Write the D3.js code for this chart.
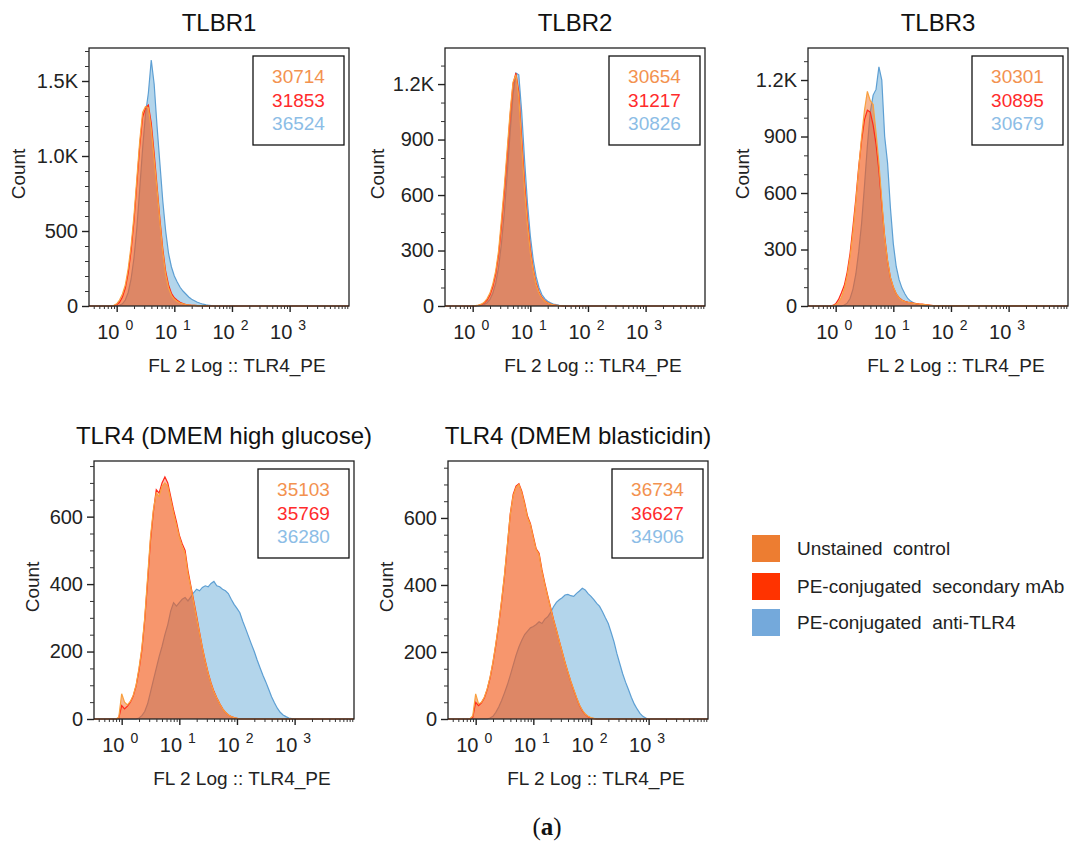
<!DOCTYPE html>
<html>
<head>
<meta charset="utf-8">
<script src="https://cdn.jsdelivr.net/npm/d3@7"></script>
<style>
body { margin: 0; background: #fff; }
text { font-family: "Liberation Sans", Arial, sans-serif; }
</style>
</head>
<body>
<div id="chart"></div>
<script>
// log10 positions of the histogram bins (FL 2 Log)
const binsTLBR = [-0.10, -0.05, 0.00, 0.05, 0.10, 0.15, 0.20, 0.25, 0.30, 0.35, 0.40, 0.45, 0.50, 0.55, 0.60, 0.65, 0.70, 0.75, 0.80, 0.85,
    0.90, 0.95, 1.00, 1.05, 1.10, 1.15, 1.20, 1.25, 1.30, 1.35, 1.40, 1.45, 1.50, 1.55, 1.60, 1.65, 1.70];
const binsTLR4 = [-0.10, -0.05, 0.00, 0.05, 0.10, 0.15, 0.20, 0.25, 0.30, 0.35, 0.40, 0.45, 0.50, 0.55, 0.60, 0.65, 0.70, 0.75, 0.80, 0.85,
    0.90, 0.95, 1.00, 1.05, 1.10, 1.15, 1.20, 1.25, 1.30, 1.35, 1.40, 1.45, 1.50, 1.55, 1.60, 1.65, 1.70, 1.75, 1.80, 1.85,
    1.90, 1.95, 2.00, 2.05, 2.10, 2.15, 2.20, 2.25, 2.30, 2.35, 2.40, 2.45, 2.50, 2.55, 2.60, 2.65, 2.70, 2.75, 2.80, 2.85,
    2.90, 2.95, 3.00];

// counts per bin
const tlbr1Unstained = [0, 5, 15, 40, 80, 140, 250, 400, 600, 850, 1100, 1290, 1330, 1320, 1180, 980, 780, 560, 360, 210,
    120, 70, 45, 30, 20, 14, 10, 7, 5, 4, 3, 2, 2, 1, 0, 0, 0];
const tlbr1Secondary = [0, 2, 8, 25, 60, 120, 220, 370, 570, 820, 1070, 1260, 1320, 1340, 1220, 1020, 800, 580, 380, 230,
    140, 85, 55, 38, 25, 16, 10, 7, 5, 4, 3, 2, 1, 1, 0, 0, 0];
const tlbr1AntiTLR4 = [0, 0, 0, 5, 15, 40, 90, 180, 320, 520, 780, 1050, 1280, 1420, 1640, 1480, 1200, 950, 700, 500,
    350, 260, 200, 160, 125, 100, 80, 60, 45, 35, 25, 18, 12, 8, 5, 2, 0];

const tlbr2Unstained = [0, 0, 0, 2, 5, 10, 20, 40, 70, 120, 190, 300, 470, 650, 850, 1050, 1210, 1250, 1130, 870,
    630, 440, 290, 190, 115, 70, 42, 26, 16, 10, 6, 4, 2, 1, 0, 0, 0];
const tlbr2Secondary = [0, 0, 0, 1, 4, 8, 16, 32, 60, 105, 175, 280, 440, 620, 820, 1030, 1200, 1260, 1160, 910,
    670, 470, 310, 200, 125, 76, 46, 28, 17, 10, 6, 4, 2, 1, 0, 0, 0];
const tlbr2AntiTLR4 = [0, 0, 0, 0, 1, 3, 8, 18, 35, 70, 125, 210, 340, 510, 720, 940, 1140, 1260, 1250, 1050,
    790, 560, 380, 250, 160, 100, 62, 40, 26, 17, 11, 7, 4, 2, 1, 0, 0];

const tlbr3Unstained = [0, 2, 6, 20, 45, 90, 160, 260, 390, 550, 730, 900, 1040, 1140, 1090, 1070, 920, 760, 560, 360,
    240, 150, 100, 65, 42, 30, 24, 20, 17, 14, 12, 10, 9, 7, 5, 3, 1];
const tlbr3Secondary = [0, 3, 12, 35, 70, 110, 180, 280, 420, 570, 740, 880, 990, 1040, 1030, 960, 860, 720, 540, 370,
    240, 150, 100, 65, 44, 32, 25, 21, 18, 15, 13, 11, 10, 8, 6, 4, 2];
const tlbr3AntiTLR4 = [0, 0, 0, 0, 0, 5, 15, 40, 90, 170, 290, 440, 640, 850, 1030, 1120, 1150, 1270, 1200, 900,
    760, 520, 330, 210, 140, 95, 65, 40, 26, 17, 10, 6, 3, 1, 0, 0, 0];

const glucoseUnstained = [0, 5, 75, 50, 42, 52, 70, 100, 150, 210, 300, 420, 540, 620, 670, 660, 690, 700, 690, 650,
    610, 575, 540, 510, 490, 430, 390, 345, 300, 255, 210, 170, 135, 105, 80, 62, 45, 30, 20, 12,
    7, 4, 2, 0, 0, 0, 0, 0, 0, 0, 0, 0, 0, 0, 0, 0, 0, 0, 0, 0, 0, 0, 0];
const glucoseSecondary = [0, 3, 40, 30, 38, 50, 68, 98, 145, 205, 295, 410, 530, 615, 680, 670, 700, 718, 700, 660,
    620, 585, 545, 520, 500, 440, 395, 350, 305, 258, 212, 172, 137, 107, 82, 63, 46, 31, 20, 12,
    7, 4, 2, 0, 0, 0, 0, 0, 0, 0, 0, 0, 0, 0, 0, 0, 0, 0, 0, 0, 0, 0, 0];
const glucoseAntiTLR4 = [0, 0, 0, 0, 0, 0, 0, 0, 3, 10, 22, 45, 80, 115, 150, 185, 215, 250, 280, 320,
    345, 335, 345, 355, 360, 350, 362, 375, 385, 380, 390, 395, 392, 402, 408, 395, 392, 385, 380, 372,
    355, 340, 328, 315, 290, 268, 245, 222, 200, 175, 152, 130, 110, 88, 66, 48, 32, 20, 12, 7,
    3, 1, 0];

const blastUnstained = [0, 10, 75, 45, 50, 65, 90, 125, 170, 225, 285, 355, 430, 520, 610, 665, 690, 700, 675, 640,
    600, 580, 540, 505, 490, 440, 400, 365, 330, 295, 265, 232, 200, 168, 140, 112, 88, 64, 42, 26,
    15, 8, 4, 2, 0, 0, 0, 0, 0, 0, 0, 0, 0, 0, 0, 0, 0, 0, 0, 0, 0, 0, 0];
const blastSecondary = [0, 5, 50, 40, 48, 63, 88, 123, 168, 222, 283, 352, 428, 518, 612, 670, 695, 702, 680, 645,
    605, 583, 545, 508, 495, 445, 405, 368, 333, 297, 266, 233, 201, 169, 140, 112, 87, 63, 41, 25,
    14, 7, 3, 1, 0, 0, 0, 0, 0, 0, 0, 0, 0, 0, 0, 0, 0, 0, 0, 0, 0, 0, 0];
const blastAntiTLR4 = [0, 0, 0, 0, 0, 0, 0, 3, 8, 20, 36, 55, 78, 102, 130, 160, 190, 215, 235, 252,
    262, 272, 276, 282, 290, 285, 298, 305, 318, 335, 348, 356, 362, 370, 372, 368, 366, 375, 382, 390,
    385, 374, 366, 356, 345, 336, 320, 302, 285, 258, 230, 195, 165, 135, 110, 88, 65, 45, 30, 17,
    8, 3, 0];

// event totals shown in the boxes
const tlbr1Events = [30714, 31853, 36524];
const tlbr2Events = [30654, 31217, 30826];
const tlbr3Events = [30301, 30895, 30679];
const glucoseEvents = [35103, 35769, 36280];
const blastEvents = [36734, 36627, 34906];

const panelTitles = ["TLBR1", "TLBR2", "TLBR3", "TLR4 (DMEM high glucose)", "TLR4 (DMEM blasticidin)"];
const yTicksTLBR1 = [0, 500, 1000, 1500];
const yLabelsTLBR1 = ["0", "500", "1.0K", "1.5K"];
const yTicksTLBR = [0, 300, 600, 900, 1200];
const yLabelsTLBR = ["0", "300", "600", "900", "1.2K"];
const yTicksTLR4 = [0, 200, 400, 600];
const yLabelsTLR4 = ["0", "200", "400", "600"];
const xDecades = [1, 10, 100, 1000];
const legendLabels = ["Unstained  control", "PE-conjugated  secondary mAb", "PE-conjugated  anti-TLR4"];

var W = 1069, H = 843;
var pw = 260, ph = 258;

// fills / outlines for unstained, secondary, anti-TLR4
var fillColors = ["rgba(240,110,40,0.5)", "rgba(255,40,0,0.3)", "#b3d5eb"];
var lineColors = ["#f9a03f", "#ff2a1a", "#5d9fd3"];
var numberColors = ["#f3924f", "#ff2b2b", "#8cbde6"];
var swatchColors = ["#ed7d31", "#ff3300", "#74a9db"];

var panels = [
    { title: panelTitles[0], bins: binsTLBR, series: [tlbr1Unstained, tlbr1Secondary, tlbr1AntiTLR4], events: tlbr1Events,
      yMax: 1720, yTicks: yTicksTLBR1, yLabels: yLabelsTLBR1, yMinor: 100, left: 89, top: 48, countGap: 64 },
    { title: panelTitles[1], bins: binsTLBR, series: [tlbr2Unstained, tlbr2Secondary, tlbr2AntiTLR4], events: tlbr2Events,
      yMax: 1395, yTicks: yTicksTLBR, yLabels: yLabelsTLBR, yMinor: 100, left: 445, top: 48, countGap: 61 },
    { title: panelTitles[2], bins: binsTLBR, series: [tlbr3Unstained, tlbr3Secondary, tlbr3AntiTLR4], events: tlbr3Events,
      yMax: 1370, yTicks: yTicksTLBR, yLabels: yLabelsTLBR, yMinor: 100, left: 808, top: 48, countGap: 59 },
    { title: panelTitles[3], bins: binsTLR4, series: [glucoseUnstained, glucoseSecondary, glucoseAntiTLR4], events: glucoseEvents,
      yMax: 765, yTicks: yTicksTLR4, yLabels: yLabelsTLR4, yMinor: 50, left: 94, top: 461, countGap: 55 },
    { title: panelTitles[4], bins: binsTLR4, series: [blastUnstained, blastSecondary, blastAntiTLR4], events: blastEvents,
      yMax: 770, yTicks: yTicksTLR4, yLabels: yLabelsTLR4, yMinor: 50, left: 448, top: 461, countGap: 55 }
];

var svg = d3.select("#chart").append("svg").attr("width", W).attr("height", H);

function isDecade(v) {
    return xDecades.some(function (d) { return Math.abs(d - v) / d < 1e-6; });
}

function drawPanel(p) {
    var g = svg.append("g").attr("transform", "translate(" + p.left + "," + p.top + ")");
    var x = d3.scaleLog().domain([Math.pow(10, -0.48), Math.pow(10, 4.03)]).range([0, pw]);
    var y = d3.scaleLinear().domain([0, p.yMax]).range([ph, 0]);

    var area = d3.area().x(d => x(d[0])).y0(ph).y1(d => y(d[1]));
    var line = d3.line().x(d => x(d[0])).y(d => y(d[1]));

    // histogram points, padded with zero along the whole axis
    var pts = p.series.map(function (s) {
        var arr = p.bins.map((b, j) => [Math.pow(10, b), s[j]]);
        return [[x.domain()[0], 0]].concat(arr).concat([[x.domain()[1], 0]]);
    });

    g.append("path").datum(pts[2]).attr("d", area).attr("fill", fillColors[2]);
    g.append("path").datum(pts[2]).attr("d", line).attr("fill", "none")
        .attr("stroke", lineColors[2]).attr("stroke-width", 1.2);
    g.append("path").datum(pts[1]).attr("d", area).attr("fill", fillColors[1]);
    g.append("path").datum(pts[0]).attr("d", area).attr("fill", fillColors[0]);
    g.append("path").datum(pts[1]).attr("d", line).attr("fill", "none")
        .attr("stroke", lineColors[1]).attr("stroke-width", 1.2);
    g.append("path").datum(pts[0]).attr("d", line).attr("fill", "none")
        .attr("stroke", lineColors[0]).attr("stroke-width", 1.2);

    // frame
    g.append("rect").attr("width", pw).attr("height", ph)
        .attr("fill", "none").attr("stroke", "#222").attr("stroke-width", 1.3);

    // y axis, major + minor ticks
    var yAxis = d3.axisLeft(y).tickValues(p.yTicks)
        .tickFormat((d, i) => p.yLabels[i]).tickSize(7).tickPadding(4);
    var yg = g.append("g").attr("color", "#222").call(yAxis);
    yg.select(".domain").remove();
    yg.selectAll("text").attr("font-size", 20).attr("font-family", null);
    yg.selectAll("line").attr("stroke-width", 1.4);

    var yMinorVals = d3.range(0, p.yMax, p.yMinor).filter(v => p.yTicks.indexOf(v) < 0);
    var ym = g.append("g").attr("color", "#333")
        .call(d3.axisLeft(y).tickValues(yMinorVals).tickSize(4).tickFormat(""));
    ym.select(".domain").remove();

    // x axis (log), decades labelled as 10^n
    var xg = g.append("g").attr("transform", "translate(0," + ph + ")").attr("color", "#222")
        .call(d3.axisBottom(x).tickValues(xDecades).tickSize(6).tickFormat(""));
    xg.select(".domain").remove();
    xg.selectAll("line").attr("stroke-width", 1.4);
    xg.selectAll(".tick").append("text")
        .attr("x", -2).attr("y", 33)
        .attr("text-anchor", "middle")
        .style("fill", "#222")
        .attr("font-size", 20)
        .each(function (d) {
            var t = d3.select(this);
            t.append("tspan").text("10");
            t.append("tspan").attr("dx", 6).attr("dy", -9).attr("font-size", 14)
                .text(Math.round(Math.log10(d)));
        });

    var xMinorVals = x.ticks().filter(v => !isDecade(v));
    var xm = g.append("g").attr("transform", "translate(0," + ph + ")").attr("color", "#333")
        .call(d3.axisBottom(x).tickValues(xMinorVals).tickSize(3).tickFormat(""));
    xm.select(".domain").remove();

    // titles and axis labels
    g.append("text").attr("x", pw / 2).attr("y", -17)
        .attr("text-anchor", "middle").attr("font-size", 24).style("fill", "#111")
        .text(p.title);
    g.append("text").attr("x", pw / 2 + 18).attr("y", ph + 66)
        .attr("text-anchor", "middle").attr("font-size", 19).style("fill", "#222")
        .text("FL 2 Log :: TLR4_PE");
    g.append("text")
        .attr("transform", "translate(" + (-p.countGap) + "," + (ph / 2 - 3) + ") rotate(-90)")
        .attr("text-anchor", "middle").attr("font-size", 19).style("fill", "#222")
        .text("Count");

    // event count box
    var box = g.append("g").attr("transform", "translate(" + (pw - 96) + ",8)");
    box.append("rect").attr("width", 91).attr("height", 89)
        .attr("fill", "#fff").attr("stroke", "#111").attr("stroke-width", 1.3);
    box.selectAll("text.ev")
        .data(p.events)
        .enter()
        .append("text")
        .attr("class", "ev")
        .attr("x", 45.5)
        .attr("y", (d, i) => 27 + i * 23.5)
        .attr("text-anchor", "middle")
        .attr("font-size", 19)
        .style("fill", (d, i) => numberColors[i])
        .text(d => d);
}

panels.forEach(drawPanel);

// shared legend
var legend = svg.append("g").attr("class", "legend").attr("transform", "translate(752,535)");
legend.selectAll("rect")
    .data(legendLabels)
    .enter()
    .append("rect")
    .attr("y", (d, i) => [0, 38, 74][i])
    .attr("width", 28)
    .attr("height", 27)
    .attr("fill", (d, i) => swatchColors[i]);
legend.selectAll("text")
    .data(legendLabels)
    .enter()
    .append("text")
    .attr("x", 45)
    .attr("y", (d, i) => [0, 38, 74][i] + 20)
    .attr("font-size", 19)
    .style("fill", "#222")
    .style("white-space", "pre")
    .text(d => d);

// panel tag
var tag = svg.append("text").attr("x", 547).attr("y", 835)
    .attr("text-anchor", "middle")
    .attr("font-size", 25)
    .style("font-family", "'Liberation Serif', 'DejaVu Serif', serif")
    .style("fill", "#111");
tag.append("tspan").text("(");
tag.append("tspan").attr("font-weight", "bold").text("a");
tag.append("tspan").text(")");
</script>
</body>
</html>
